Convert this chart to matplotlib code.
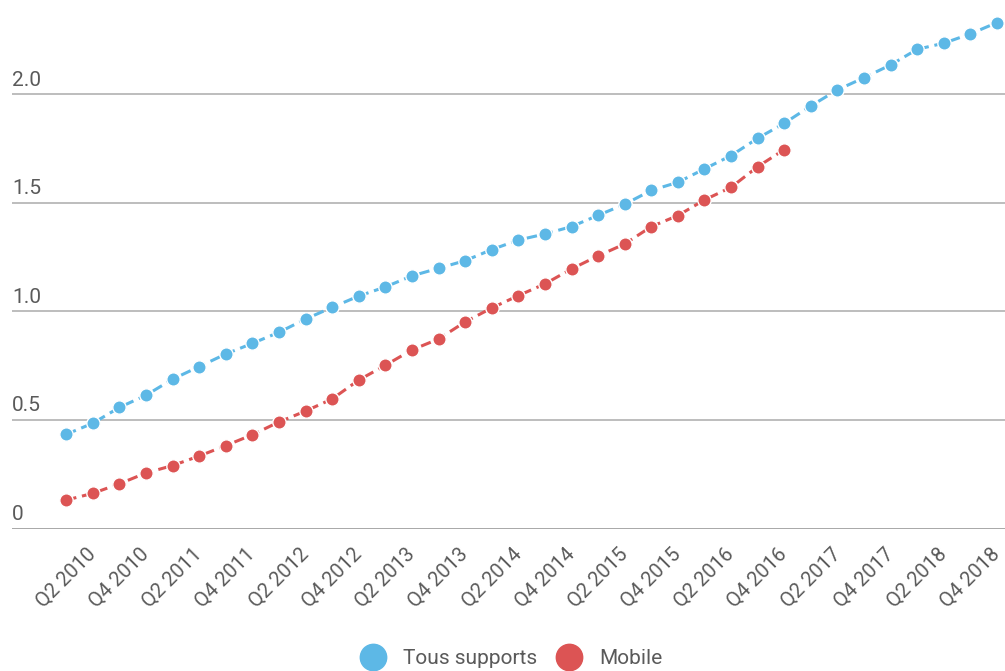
import matplotlib.pyplot as plt
from matplotlib.lines import Line2D

# --- DATI (trimestri Q1 2010 -> Q4 2018) ---
trimestri = [f"Q{q} {a}" for a in range(2010, 2019) for q in range(1, 5)]

tous_supports = [0.434, 0.485, 0.558, 0.614, 0.688, 0.746, 0.804, 0.853, 0.904, 0.965,
                 1.019, 1.071, 1.113, 1.164, 1.199, 1.234, 1.285, 1.329, 1.357, 1.391,
                 1.443, 1.494, 1.558, 1.595, 1.657, 1.718, 1.798, 1.867, 1.947, 2.021,
                 2.077, 2.136, 2.208, 2.236, 2.279, 2.331]

mobile = [0.131, 0.162, 0.206, 0.256, 0.290, 0.334, 0.382, 0.432, 0.491, 0.541,
          0.597, 0.684, 0.752, 0.823, 0.873, 0.952, 1.016, 1.073, 1.127, 1.196,
          1.256, 1.311, 1.391, 1.442, 1.514, 1.572, 1.667, 1.746]

valori_y = [0, 0.5, 1.0, 1.5, 2.0]
etichette_y = ["0", "0.5", "1.0", "1.5", "2.0"]

BLU = "#5db8e6"
ROSSO = "#dc5454"
GRIGIO_TESTO = "#5a5a5a"

plt.rcParams['font.family'] = ['Roboto', 'DejaVu Sans']

fig = plt.figure(figsize=(10.05, 6.71), dpi=100)
ax = fig.add_axes([12 / 1005, (671 - 528.5) / 671, 1 - 12 / 1005, 528.5 / 671])

# griglia orizzontale
for v in valori_y:
    ax.axhline(v, color="#a8a8a8" if v == 0 else "#bdbdbd", lw=1.4, zorder=1)

# serie
for serie, colore in [(tous_supports, BLU), (mobile, ROSSO)]:
    xs = list(range(len(serie)))
    ax.plot(xs, serie, color=colore, lw=2.2, dashes=(3.4, 1.9), zorder=2,
            dash_capstyle='butt')
    ax.plot(xs, serie, 'o', color=colore, markersize=9.6, markeredgecolor='white',
            markeredgewidth=1.0, zorder=3, clip_on=False)

ax.set_xlim(-2.04, 35.3)
ax.set_ylim(0, 2.435)

# etichette asse y sopra le linee
for v, lab in zip(valori_y, etichette_y):
    ax.annotate(lab, xy=(0, v), xycoords=('axes fraction', 'data'),
                xytext=(0, 3.5), textcoords='offset points',
                ha='left', va='bottom', fontsize=15, color=GRIGIO_TESTO)

ax.set_yticks([])
pos_x = list(range(1, len(trimestri), 2))
ax.set_xticks(pos_x)
ax.set_xticklabels([trimestri[i] for i in pos_x], rotation=45, ha='right', va='center',
                   rotation_mode='anchor', fontsize=14.5, color=GRIGIO_TESTO)
ax.tick_params(axis='x', length=0, pad=16)

for s in ax.spines.values():
    s.set_visible(False)

# legenda
handles = [
    Line2D([0], [0], marker='o', color=BLU, lw=0, markersize=19, label='Tous supports'),
    Line2D([0], [0], marker='o', color=ROSSO, lw=0, markersize=19, label='Mobile'),
]
leg = fig.legend(handles=handles, loc='center', bbox_to_anchor=(0.509, 1 - 659 / 671),
                 ncol=2, frameon=False, fontsize=15, handletextpad=0.84,
                 columnspacing=0.9, handlelength=1.2, borderpad=0, borderaxespad=0)
for t in leg.get_texts():
    t.set_color(GRIGIO_TESTO)

fig.savefig("out.png", dpi=100)
